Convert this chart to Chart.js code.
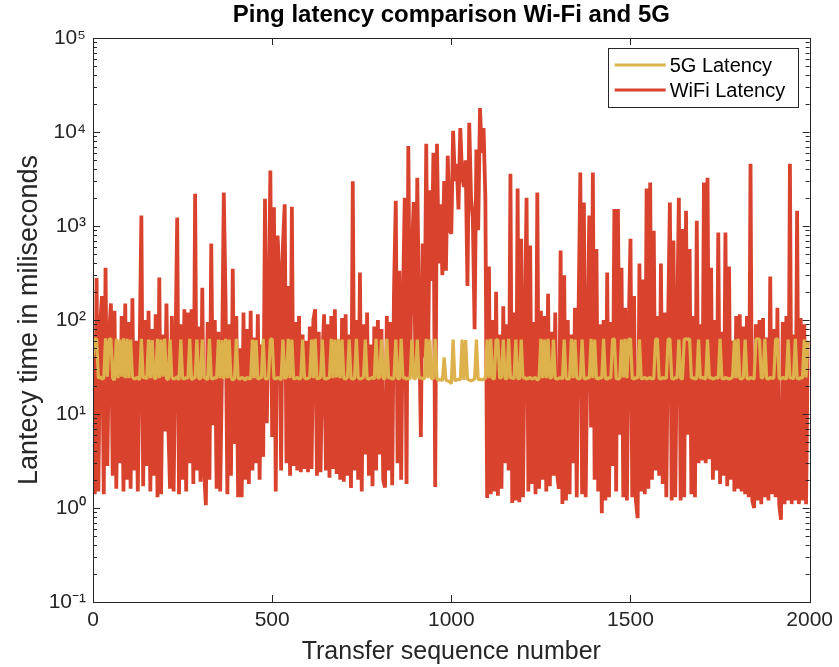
<!DOCTYPE html>
<html>
<head>
<meta charset="utf-8">
<script src="https://cdn.jsdelivr.net/npm/chart.js@4.4.1/dist/chart.umd.min.js"></script>
<style>
  html, body { margin: 0; padding: 0; background: #fff; }
  #wrap { width: 839px; height: 667px; }
</style>
</head>
<body>
<div id="wrap"><canvas id="latencyChart" width="839" height="667"></canvas></div>
<script>
// ---- data (one sample every 5 transfers) ----
const chartTitle = 'Ping latency comparison Wi-Fi and 5G';
const xAxisTitle = 'Transfer sequence number';
const yAxisTitle = 'Lantecy time in miliseconds';
const seriesNames = ['5G Latency', 'WiFi Latency'];
const seqStep = 5;
const xTickValues = [0, 500, 1000, 1500, 2000];
const yTickValues = [0.1, 1, 10, 100, 1000, 10000, 100000];

const latency5G = [
  40, 62, 63, 24, 25, 23.5, 24, 64, 25, 62, 63, 24, 23, 63, 24, 62, 25, 64, 24, 63,
  24, 62, 25, 23.5, 24, 24.5, 23, 63, 24, 25, 23.5, 62, 24, 61, 24.5, 23.5, 63, 24, 62, 25,
  63, 24, 23, 62, 24.5, 23.5, 24, 25, 23, 62, 24, 23.5, 24.5, 24, 63, 23, 24.5, 24, 62, 24,
  23.5, 62, 24, 24.5, 23, 63, 24, 23.5, 24.5, 24, 62, 24, 61, 23.5, 63, 24, 62, 24.5, 23, 24,
  63, 24, 23.5, 24.5, 24, 23, 24.5, 24, 23.5, 62, 24, 61, 23.5, 24, 24.5, 63, 24, 23.5, 24.5, 62,
  63, 24, 23.5, 24.5, 24, 23, 62, 24, 24.5, 63, 24, 62, 23.5, 24, 24.5, 23.5, 24, 62, 24.5, 23.5,
  24, 24.5, 62, 24, 63, 23.5, 24, 24.5, 62, 24, 23.5, 24, 24.5, 63, 24, 62, 24.5, 63, 24, 62,
  24, 23.5, 24.5, 62, 24, 23.5, 24, 63, 24.5, 23.5, 24, 24.5, 62, 24, 23.5, 24, 24.5, 23.5, 63, 24,
  24.5, 62, 24, 23.5, 63, 24, 24.5, 23.5, 24, 62, 24, 23.5, 63, 24, 24.5, 23.5, 24, 23.5, 62, 24,
  23.5, 62, 24, 24.5, 23.5, 24, 63, 24, 62, 23.5, 24, 63, 23.5, 23, 23.5, 22.5, 40, 23, 22.5, 22,
  21, 62, 22.5, 23, 23.5, 23, 62, 23, 61, 23.5, 23, 22.5, 23, 23.5, 62, 23, 23.5, 23, 23.5, 24,
  62, 24, 63, 24, 23.5, 62, 61, 24, 24.5, 62, 24, 23.5, 63, 24, 24.5, 23.5, 62, 24, 23.5, 62,
  24, 24.5, 23.5, 24, 24.5, 23.5, 24, 24.5, 23, 24, 63, 24, 62, 24, 63, 24, 24.5, 62, 24, 23.5,
  24, 24.5, 23.5, 62, 24, 23.5, 24, 63, 24, 62, 24.5, 23.5, 24, 62, 24, 23.5, 24.5, 24, 63, 24,
  62, 24, 23.5, 24.5, 24, 63, 24, 23.5, 24.5, 24, 62, 63, 24, 23.5, 24, 62, 24.5, 63, 24, 62,
  63, 24, 23.5, 24.5, 24, 62, 23.5, 24, 24.5, 23.5, 24, 24.5, 23.5, 24, 62, 63, 24, 23.5, 24.5, 24,
  24, 62, 63, 24, 23.5, 24.5, 24, 62, 24, 23.5, 62, 63, 62, 63, 24, 24.5, 23.5, 24, 62, 24,
  24.5, 24, 23.5, 62, 24, 24.5, 23.5, 24, 24.5, 24, 63, 24, 23.5, 24.5, 24, 23.5, 24, 24.5, 62, 24,
  63, 24, 23.5, 24.5, 62, 24, 23.5, 24.5, 24, 23.5, 62, 63, 62, 24, 24.5, 63, 24, 23.5, 24.5, 24,
  24, 62, 63, 24, 23.5, 24.5, 24, 23.5, 62, 24, 24.5, 23.5, 63, 24, 23.5, 24.5, 24, 62, 24.5, 60
];

const latencyWiFi = [
  5, 1.4, 280, 1.5, 90, 180, 1.4, 360, 2.8, 70, 150, 2.2, 125, 1.6, 45, 3.0, 110, 1.5, 150, 2.0,
  95, 1.6, 170, 2.5, 60, 1.5, 40, 1290, 1.7, 100, 2.8, 125, 1.5, 80, 2.2, 115, 1.3, 283, 1.4, 70,
  6.5, 150, 8, 1.6, 110, 1.5, 45, 1230, 1.4, 90, 2.0, 130, 1.5, 120, 3, 130, 1.8, 2200, 2.5, 85,
  1.9, 220, 2.5, 1.07, 95, 2.0, 650, 7.6, 100, 1.6, 75, 1.5, 30, 2270, 160, 1.4, 90, 2.2, 350, 4.8,
  110, 1.3, 50, 1.3, 120, 2.0, 80, 1.8, 125, 2.5, 65, 3.0, 115, 2.0, 55, 3.5, 1950, 8, 100, 3900,
  5.7, 1580, 1.5, 790, 335, 2.5, 620, 1700, 3, 230, 2.2, 1600, 2.8, 95, 2.5, 110, 2.4, 70, 2.6, 60,
  2.4, 85, 2.6, 100, 130, 2.2, 75, 2.4, 40, 115, 2.5, 90, 2.1, 110, 2.6, 130, 2.3, 50, 2.0, 105,
  1.9, 115, 2.2, 70, 1.63, 3000, 2.5, 100, 2.0, 320, 1.5, 90, 3.7, 120, 2.2, 55, 1.7, 85, 2.5, 100,
  3.7, 80, 2.0, 1.65, 110, 2.5, 95, 1.75, 200, 1850, 3, 335, 2.0, 150, 2000, 1.8, 7100, 30, 500, 1800,
  25, 3250, 100, 5.7, 650, 40, 7500, 30, 2400, 260, 6000, 1.67, 7500, 400, 1700, 300, 3000, 335, 5600, 900,
  830, 10300, 3000, 4600, 1500, 11000, 3500, 2600, 5000, 230, 12500, 2000, 1230, 80, 6500, 900, 18000, 6000, 11000, 2000,
  1.28, 370, 1.4, 100, 1.5, 200, 1.35, 70, 1.6, 140, 3, 90, 2.5, 3600, 1.13, 120, 1.2, 2500, 1.15, 730,
  1.3, 80, 2000, 1.5, 620, 1.8, 95, 1.4, 2270, 1.6, 125, 2.0, 110, 1.5, 190, 1.7, 75, 2.2, 120, 2.4,
  1.6, 550, 1.1, 300, 1.2, 100, 1.4, 70, 3, 135, 1.3, 110, 3700, 1.4, 1780, 1.3, 60, 1290, 7.2, 3700,
  2.0, 570, 1.5, 90, 0.88, 100, 1.2, 320, 1.3, 95, 2.8, 1520, 1.5, 1520, 6, 360, 1.3, 135, 1.2, 80,
  730, 1.3, 180, 1.2, 0.78, 400, 1.5, 270, 1.4, 2500, 1.6, 2900, 2.0, 890, 2.5, 110, 2.2, 400, 1.8, 120,
  1.3, 95, 1780, 1.2, 700, 1.3, 80, 2000, 1.2, 930, 1.3, 1450, 6, 570, 1.4, 110, 1.3, 1140, 3, 90,
  3.2, 2900, 3.0, 3250, 3.3, 360, 2.0, 100, 2.5, 850, 1.8, 75, 2.2, 850, 1.7, 370, 2.0, 60, 1.5, 110,
  1.6, 115, 1.5, 85, 1.4, 110, 1.3, 4600, 1.2, 1.0, 90, 1.2, 100, 1.1, 105, 1.3, 65, 1.2, 290, 1.4,
  80, 1.3, 135, 1.1, 0.75, 95, 1.1, 110, 1.2, 4600, 1.1, 70, 1.2, 1450, 1.1, 105, 1.2, 90, 1.1, 60
];

const seqNumbers = latencyWiFi.map((_, i) => i * seqStep);

const colour5G   = '#ddb24c';
const colourWiFi = '#d9432e';
const axisColour = '#262626';
const fontFamily = "'Liberation Sans', Arial, Helvetica, sans-serif";

const supers = { '-': '\u207B', '0': '\u2070', '1': '\u00B9', '2': '\u00B2', '3': '\u00B3',
                 '4': '\u2074', '5': '\u2075', '6': '\u2076', '7': '\u2077', '8': '\u2078', '9': '\u2079' };
function powerLabel(v) {
    const e = String(Math.round(Math.log10(v)));
    return '10' + e.split('').map(c => supers[c]).join('');
}

// frame, inward ticks, title and legend in MATLAB style
const matlabAxes = {
    id: 'matlabAxes',
    afterDatasetsDraw(chart) {
        const { ctx, chartArea: a, scales: { x, y } } = chart;
        ctx.save();
        ctx.strokeStyle = axisColour;
        ctx.lineWidth = 1;
        ctx.beginPath();
        xTickValues.forEach(v => {
            const px = Math.round(x.getPixelForValue(v)) + 0.5;
            ctx.moveTo(px, a.bottom); ctx.lineTo(px, a.bottom - 7);
            ctx.moveTo(px, a.top);    ctx.lineTo(px, a.top + 7);
        });
        for (let k = -1; k < 5; k++) {
            for (let m = 1; m < 10; m++) {
                const py = Math.round(y.getPixelForValue(m * Math.pow(10, k))) + 0.5;
                const len = m === 1 ? 7 : 4;
                ctx.moveTo(a.left, py);  ctx.lineTo(a.left + len, py);
                ctx.moveTo(a.right, py); ctx.lineTo(a.right - len, py);
            }
        }
        ctx.stroke();
        ctx.strokeRect(Math.round(a.left) + 0.5, Math.round(a.top) + 0.5,
                       Math.round(a.right - a.left), Math.round(a.bottom - a.top));
        ctx.restore();
    },
    afterDraw(chart) {
        const { ctx, chartArea: a } = chart;
        ctx.save();
        // title
        ctx.fillStyle = '#000';
        ctx.font = 'bold 24px ' + fontFamily;
        ctx.textAlign = 'center';
        ctx.textBaseline = 'middle';
        ctx.fillText(chartTitle, (a.left + a.right) / 2, 15);

        // legend box
        const w = 190, h = 59;
        const lx = a.right - 12 - w, ly = a.top + 10;
        ctx.fillStyle = '#fff';
        ctx.fillRect(lx, ly, w, h);
        ctx.strokeStyle = axisColour;
        ctx.lineWidth = 1;
        ctx.strokeRect(Math.round(lx) + 0.5, Math.round(ly) + 0.5, w, h);
        ctx.font = '20px ' + fontFamily;
        ctx.textAlign = 'left';
        chart.data.datasets.forEach((ds, i) => {
            const cy = ly + 17 + i * 25;
            ctx.strokeStyle = ds.borderColor;
            ctx.lineWidth = 3;
            ctx.beginPath();
            ctx.moveTo(lx + 7, cy); ctx.lineTo(lx + 58, cy);
            ctx.stroke();
            ctx.fillStyle = '#000';
            ctx.fillText(ds.label, lx + 62, cy + 1);
        });
        ctx.restore();
    }
};

new Chart(document.getElementById('latencyChart'), {
    type: 'line',
    data: {
        datasets: [
            {
                label: seriesNames[0],
                data: latency5G.map((v, i) => ({ x: seqNumbers[i], y: v })),
                borderColor: colour5G,
                borderWidth: 3.2,
                borderJoinStyle: 'bevel',
                pointRadius: 0,
                tension: 0
            },
            {
                label: seriesNames[1],
                data: latencyWiFi.map((v, i) => ({ x: seqNumbers[i], y: v })),
                borderColor: colourWiFi,
                borderWidth: 3.8,
                borderJoinStyle: 'bevel',
                pointRadius: 0,
                tension: 0
            }
        ]
    },
    options: {
        responsive: false,
        animation: false,
        layout: { padding: { top: 38, right: 27, left: 0, bottom: 0 } },
        plugins: {
            legend: { display: false },
            tooltip: { enabled: false },
            title: { display: false }
        },
        scales: {
            x: {
                type: 'linear',
                min: 0,
                max: 2000,
                grid: { display: false, drawTicks: false },
                border: { display: false },
                afterBuildTicks: s => { s.ticks = xTickValues.map(v => ({ value: v })); },
                afterFit: s => { s.height = 65; },
                ticks: {
                    autoSkip: false,
                    maxRotation: 0,
                    padding: 6,
                    color: axisColour,
                    font: { family: fontFamily, size: 21 },
                    callback: v => String(v)
                },
                title: {
                    display: true,
                    text: xAxisTitle,
                    color: axisColour,
                    padding: { top: 0, bottom: 0 },
                    font: { family: fontFamily, size: 25 }
                }
            },
            y: {
                type: 'logarithmic',
                min: 0.1,
                max: 100000,
                grid: { display: false, drawTicks: false },
                border: { display: false },
                afterBuildTicks: s => { s.ticks = yTickValues.map(v => ({ value: v, major: true })); },
                afterFit: s => { s.width = 93; },
                ticks: {
                    autoSkip: false,
                    padding: 7,
                    color: axisColour,
                    font: { family: fontFamily, size: 21 },
                    callback: v => powerLabel(v)
                },
                title: {
                    display: true,
                    text: yAxisTitle,
                    color: axisColour,
                    padding: { top: 13, bottom: 0 },
                    font: { family: fontFamily, size: 27 }
                }
            }
        }
    },
    plugins: [matlabAxes]
});
</script>
</body>
</html>
